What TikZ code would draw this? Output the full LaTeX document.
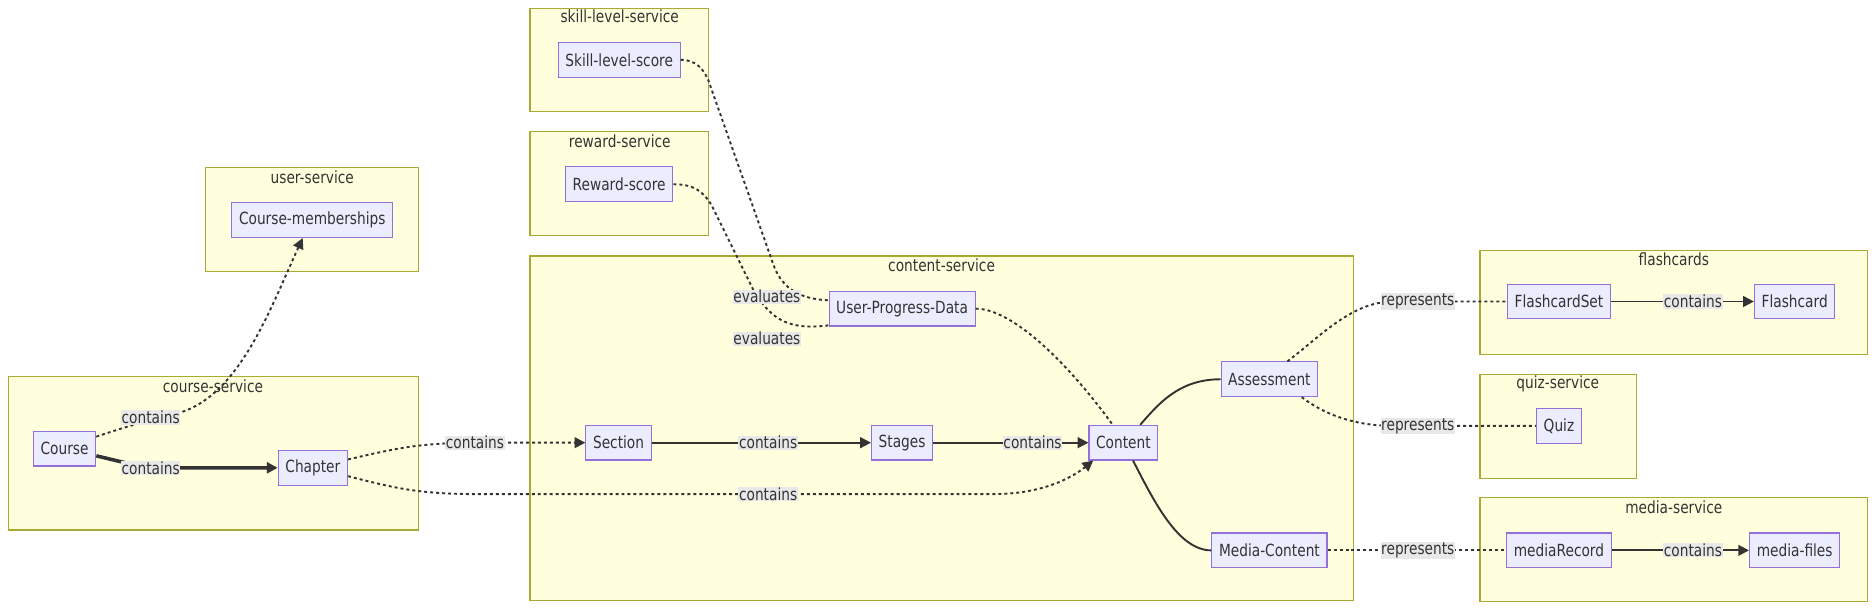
\documentclass[tikz,border=0pt]{standalone}
\usepackage{fontspec}
\setmainfont{DejaVu Sans}[FakeStretch=0.82]
\usetikzlibrary{arrows.meta,calc}
\definecolor{clfill}{HTML}{FFFFDE}
\definecolor{cldraw}{HTML}{AAAA33}
\definecolor{ndfill}{HTML}{ECECFF}
\definecolor{nddraw}{HTML}{9370DB}
\definecolor{lbfill}{HTML}{E8E8E8}
\definecolor{ink}{HTML}{333333}

\begin{document}
\begin{tikzpicture}[x=1pt,y=-1pt,font=\fontsize{14}{16}\selectfont,text=ink,
  >={Triangle[length=9pt,width=9pt]},
  cluster/.style={draw=cldraw,fill=clfill,line width=0.9pt},
  box/.style={draw=nddraw,fill=ndfill,line width=0.9pt,minimum height=29pt,inner xsep=6pt},
  lbl/.style={fill=lbfill,inner sep=0.5pt},
  ttl/.style={inner sep=0pt},
  link/.style={draw=ink,line width=1.6pt},
  dots/.style={draw=ink,line width=1.6pt,dash pattern=on 2.5pt off 2.5pt},
  thicklink/.style={draw=ink,line width=3pt}]
\useasboundingbox (0,0) rectangle (1568,510);

% subgraphs
\draw[cluster] (443,7) rectangle (592,93);
\node[ttl] (tskill) at (518,14) {skill-level-service};
\draw[cluster] (443,110) rectangle (592,197);
\node[ttl] (treward) at (518,118) {reward-service};
\draw[cluster] (172,140) rectangle (350,227);
\node[ttl] (tuser) at (261,148) {user-service};
\draw[cluster] (7,315) rectangle (350,443);
\node[ttl] (tcourse) at (178,323) {course-service};
\draw[cluster] (443,214) rectangle (1131,502);
\node[ttl] (tcontent) at (787,222) {content-service};
\draw[cluster] (1237,209) rectangle (1561,296);
\node[ttl] (tflash) at (1399,217) {flashcards};
\draw[cluster] (1237,313) rectangle (1368,400);
\node[ttl] (tquiz) at (1302,321) {quiz-service};
\draw[cluster] (1237,416) rectangle (1561,503);
\node[ttl] (tmedia) at (1399,424) {media-service};

% entities
\node[box] (skill) at (517.5,50) {Skill-level-score};
\node[box] (reward) at (517.5,154) {Reward-score};
\node[box] (members) at (261,184) {Course-memberships};
\node[box] (course) at (54,375) {Course};
\node[box] (chapter) at (261.5,391) {Chapter};
\node[box] (upd) at (754,258) {User-Progress-Data};
\node[box] (section) at (517,370) {Section};
\node[box] (stages) at (754,370) {Stages};
\node[box] (content) at (939,370) {Content};
\node[box] (assess) at (1061,317) {Assessment};
\node[box] (media) at (1061,460) {Media-Content};
\node[box] (fset) at (1303,252) {FlashcardSet};
\node[box] (fcard) at (1500,252) {Flashcard};
\node[box] (quiz) at (1303,356) {Quiz};
\node[box] (mrec) at (1303,460) {mediaRecord};
\node[box] (mfiles) at (1500,460) {media-files};

% course-service links
\draw[dots,->] ([yshift=10pt]course.east) .. controls (95,360) and (120,352) .. (150,345)
  .. controls (200,330) and (225,260) .. ([xshift=-8pt]members.south);
\draw[thicklink,->] ([yshift=-6pt]course.east) .. controls (110,388) and (120,391) .. (140,391) -- (chapter.west);
\draw[dots,->] ([yshift=7pt]chapter.east) .. controls (330,375) and (350,370) .. (400,370) -- (section.west);
\draw[dots,->] ([yshift=-7pt]chapter.east) .. controls (330,408) and (350,413) .. (400,413) -- (830,413)
  .. controls (870,413) and (895,400) .. ([xshift=4pt]content.south west);

% content-service links
\draw[link,->] (section) -- (stages);
\draw[link,->] (stages) -- (content);
\draw[dots] (skill.east) .. controls (582,50) and (588,58) .. (592,67) -- (646,220)
  .. controls (652,238) and (665,250) .. ([yshift=7pt]upd.west);
\draw[dots] (reward.east) .. controls (580,154) and (588,160) .. (595,172) -- (630,243)
  .. controls (645,268) and (660,276) .. ([yshift=1pt]upd.south west);
\draw[dots] (upd.east) .. controls (845,258) and (890,300) .. ([xshift=-9pt]content.north);
\draw[link] ([xshift=14pt]content.north) .. controls (968,338) and (985,317) .. (assess.west);
\draw[link] ([xshift=8pt]content.south) .. controls (965,420) and (985,460) .. (media.west);

% other services
\draw[dots] ([xshift=15pt]assess.north) .. controls (1105,280) and (1130,252) .. (1165,252) -- (fset.west);
\draw[dots] ([xshift=27pt]assess.south) .. controls (1105,345) and (1130,356) .. (1165,356) -- (quiz.west);
\draw[dots] (media) -- (mrec);
\draw[link,->] (fset) -- (fcard);
\draw[link,->] (mrec) -- (mfiles);

% edge labels
\node[lbl] (lcm) at (126,349) {contains};
\node[lbl] (lcc) at (126,391) {contains};
\node[lbl] (lcs) at (397,370) {contains};
\node[lbl] (lss) at (642,370) {contains};
\node[lbl] (lsc) at (863,370) {contains};
\node[lbl] (lct) at (642,413) {contains};
\node[lbl] (lev1) at (641,248) {evaluates};
\node[lbl] (lev2) at (641,283) {evaluates};
\node[lbl] (lrp1) at (1185,252) {represents};
\node[lbl] (lrp2) at (1185,356) {represents};
\node[lbl] (lrp3) at (1185,460) {represents};
\node[lbl] (lfc) at (1415,252) {contains};
\node[lbl] (lmc) at (1415,460) {contains};
\end{tikzpicture}
\end{document}
